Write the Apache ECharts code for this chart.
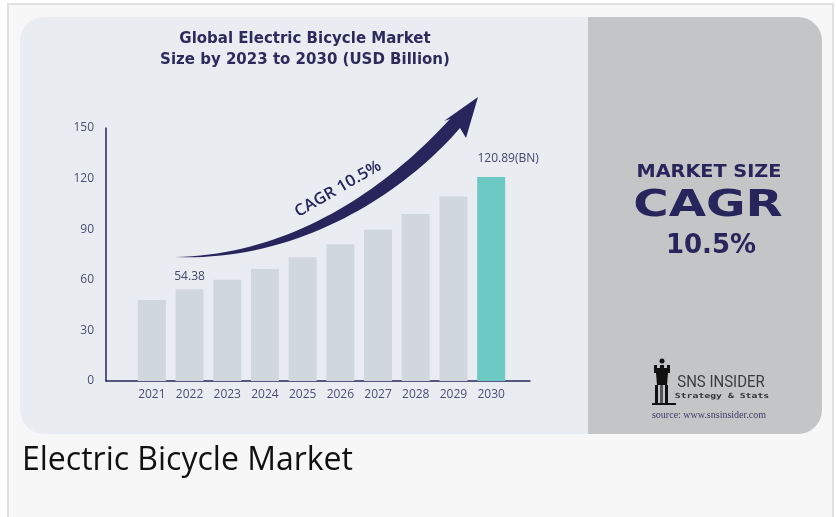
<!DOCTYPE html>
<html>
<head>
<meta charset="utf-8">
<script src="https://cdn.jsdelivr.net/npm/echarts@6/dist/echarts.min.js"></script>
<style>
  html, body { margin: 0; padding: 0; background: #ffffff; }
  #chart { width: 836px; height: 517px; }
</style>
</head>
<body>
<div id="chart"></div>
<script>
// ---- data ----
const years = ['2021', '2022', '2023', '2024', '2025', '2026', '2027', '2028', '2029', '2030'];
const marketSize = [48, 54.38, 60.1, 66.4, 73.4, 81.1, 89.6, 99.0, 109.4, 120.89];
const valueLabels = ['', '54.38', '', '', '', '', '', '', '', '120.89(BN)'];
const yMin = 0, yMax = 150, yStep = 30;
const titleText = 'Global Electric Bicycle Market\nSize by 2023 to 2030 (USD Billion)';
const cagrText = 'CAGR 10.5%';
const captionText = 'Electric Bicycle Market';

// ---- styles ----
const navy = '#27255b';
const grayBar = '#d0d7dd';
const tealBar = '#6cc9c3';
const axisText = '#4d4c74';

const chart = echarts.init(document.getElementById('chart'), null, { renderer: 'canvas' });

const seriesData = marketSize.map((v, i) => {
  const item = { value: v, itemStyle: { color: i === marketSize.length - 1 ? tealBar : grayBar } };
  if (valueLabels[i]) {
    item.label = {
      show: true,
      position: 'top',
      formatter: valueLabels[i],
      distance: i === marketSize.length - 1 ? 13 : 7,
      offset: i === marketSize.length - 1 ? [17, 0] : [0, 0],
      color: '#45456b',
      fontSize: 12,
      fontFamily: 'Open Sans'
    };
  }
  return item;
});

// decorative swoosh outline (sampled cubic curves)
function cubic(p0, p1, p2, p3, n) {
  const pts = [];
  for (let k = 0; k <= n; k++) {
    const t = k / n, u = 1 - t;
    pts.push([
      u*u*u*p0[0] + 3*u*u*t*p1[0] + 3*u*t*t*p2[0] + t*t*t*p3[0],
      u*u*u*p0[1] + 3*u*u*t*p1[1] + 3*u*t*t*p2[1] + t*t*t*p3[1]
    ]);
  }
  return pts;
}
const upperEdge = cubic([175,257], [290,255], [385,190], [450,119], 40);
const lowerEdge = cubic([175,257], [300,262], [405,192], [460,128], 40).reverse();
const arrowPts = upperEdge.concat([[444,121], [478,97], [466,138]], lowerEdge);

function txt(x, y, text, font, color, opts) {
  return Object.assign({
    type: 'text', x: x, y: y, z: 5,
    style: {
      text: text, font: font, fill: color,
      align: 'center', verticalAlign: 'middle',
      textAlign: 'center', textVerticalAlign: 'middle'
    }
  }, opts || {});
}

const option = {
  backgroundColor: '#ffffff',
  animation: false,
  title: {
    text: titleText,
    left: 300,
    top: 24,
    textAlign: 'center',
    textStyle: {
      color: '#2e2b5c',
      fontSize: 15,
      fontWeight: 'bold',
      fontFamily: 'DejaVu Sans',
      lineHeight: 21
    }
  },
  grid: [
    { left: 133, width: 377, top: 128, height: 253 },
    { left: 106, width: 424, top: 128, height: 253 }
  ],
  xAxis: [
    {
      type: 'category', gridIndex: 0, data: years,
      axisLine: { show: false }, axisTick: { show: false },
      axisLabel: { color: axisText, fontSize: 12, fontFamily: 'Open Sans', margin: 8 }
    },
    {
      type: 'value', gridIndex: 1, min: 0, max: 1,
      axisLine: { show: true, lineStyle: { color: navy, width: 1.5 } },
      axisTick: { show: false }, axisLabel: { show: false }, splitLine: { show: false }
    }
  ],
  yAxis: [
    { type: 'value', gridIndex: 0, min: yMin, max: yMax, interval: yStep, show: false },
    {
      type: 'value', gridIndex: 1, min: yMin, max: yMax, interval: yStep,
      axisLine: { show: true, lineStyle: { color: navy, width: 1.5 } },
      axisTick: { show: false }, splitLine: { show: false },
      axisLabel: { color: axisText, fontSize: 12, fontFamily: 'Open Sans', margin: 12 }
    }
  ],
  series: [
    {
      type: 'bar', xAxisIndex: 0, yAxisIndex: 0,
      barWidth: 28, data: seriesData, z: 3
    }
  ],
  graphic: [
    { type: 'rect', z: -10, shape: { x: 8, y: 4, width: 825, height: 530 },
      style: { fill: '#f7f7f7', stroke: '#e0e0e0', lineWidth: 2 } },
    { type: 'rect', z: -9, shape: { x: 20, y: 17, width: 580, height: 417, r: [24, 0, 0, 24] },
      style: { fill: '#e9edf2' } },
    { type: 'rect', z: -9, shape: { x: 588, y: 17, width: 234, height: 417, r: [0, 24, 24, 0] },
      style: { fill: '#c4c5c7' } },
    { type: 'polygon', z: 4, shape: { points: arrowPts }, style: { fill: navy } },
    txt(338, 189, cagrText, '600 16px "Open Sans"', navy, { rotation: 30 * Math.PI / 180, scaleX: 1.05 }),
    txt(709, 172, 'MARKET SIZE', 'bold 18px "DejaVu Sans"', navy, { scaleX: 1.07 }),
    txt(708, 206, 'CAGR', 'bold 38px "DejaVu Sans"', navy, { scaleX: 1.27 }),
    txt(711, 246, '10.5%', 'bold 26px "DejaVu Sans"', navy),
    { type: 'group', z: 5, children: [
      { type: 'circle', shape: { cx: 662, cy: 361, r: 2.5 }, style: { fill: '#111' } },
      { type: 'polygon', shape: { points: [[654,365],[657,365],[657,368],[660,368],[660,365],[664,365],[664,368],[667,368],[667,365],[670,365],[670,373],[654,373]] }, style: { fill: '#111' } },
      { type: 'polygon', shape: { points: [[656,373],[668,373],[667,385],[657,385]] }, style: { fill: '#111' } },
      { type: 'rect', shape: { x: 655, y: 385, width: 3, height: 19 }, style: { fill: '#111' } },
      { type: 'rect', shape: { x: 660, y: 385, width: 3, height: 19 }, style: { fill: '#555' } },
      { type: 'rect', shape: { x: 665, y: 385, width: 3, height: 19 }, style: { fill: '#111' } },
      { type: 'rect', shape: { x: 652, y: 403, width: 24, height: 2 }, style: { fill: '#111' } }
    ] },
    txt(721, 383, 'SNS INSIDER', '17px "Roboto"', '#3b3b3b', { scaleX: 0.88 }),
    txt(722, 396, 'Strategy & Stats', 'bold 7px "DejaVu Sans Mono"', '#333', { scaleX: 1.4 }),
    txt(709, 415, 'source: www.snsinsider.com', '10px "Liberation Serif"', '#3d3a6a'),
    { type: 'text', x: 22, y: 461, z: 5,
      style: { text: captionText, font: '32px "Open Sans"', fill: '#111111',
               align: 'left', verticalAlign: 'middle', textAlign: 'left', textVerticalAlign: 'middle' } }
  ]
};

chart.setOption(option);
</script>
</body>
</html>
